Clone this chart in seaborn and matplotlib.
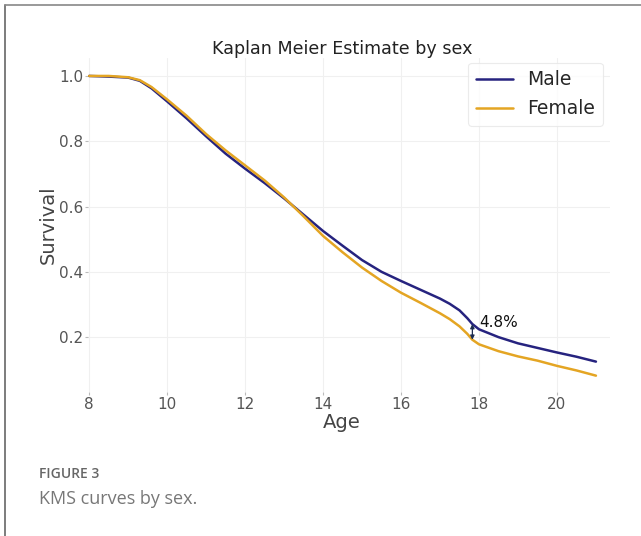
import matplotlib
matplotlib.use("Agg")
import matplotlib.pyplot as plt
from matplotlib.lines import Line2D
import numpy as np
import pandas as pd
import seaborn as sns

# Kaplan-Meier survival estimates by sex
ages = [8.0, 8.5, 9.0, 9.3, 9.6, 10.0, 10.5, 11.0, 11.5, 12.0, 12.5, 13.0, 13.5,
        14.0, 14.5, 15.0, 15.5, 16.0, 16.5, 17.0, 17.25, 17.5, 17.7, 17.83, 18.0,
        18.5, 19.0, 19.5, 20.0, 20.5, 21.0]
male_surv = [1.000, 0.998, 0.995, 0.985, 0.962, 0.922, 0.870, 0.815, 0.762, 0.716,
             0.672, 0.625, 0.575, 0.525, 0.480, 0.436, 0.400, 0.372, 0.345, 0.318,
             0.302, 0.282, 0.258, 0.240, 0.224, 0.200, 0.181, 0.167, 0.153, 0.140,
             0.125]
female_surv = [1.000, 1.000, 0.996, 0.987, 0.966, 0.928, 0.878, 0.822, 0.772, 0.726,
               0.680, 0.628, 0.570, 0.510, 0.460, 0.413, 0.372, 0.336, 0.305, 0.273,
               0.255, 0.233, 0.210, 0.192, 0.178, 0.157, 0.141, 0.128, 0.112, 0.098,
               0.082]
sexes = ["Male", "Female"]
x_ticks = [8, 10, 12, 14, 16, 18, 20]
y_ticks = [0.2, 0.4, 0.6, 0.8, 1.0]

gap_age = 17.83
gap_male = male_surv[ages.index(gap_age)]
gap_female = female_surv[ages.index(gap_age)]

df = pd.DataFrame({
    "Age": ages * 2,
    "Survival": male_surv + female_surv,
    "Sex": [sexes[0]] * len(ages) + [sexes[1]] * len(ages),
})

sns.set_theme(style="whitegrid")
plt.rcParams["font.family"] = ["DejaVu Sans"]

fig = plt.figure(figsize=(6.41, 5.36), dpi=100)
ax = fig.add_axes([0.1373, 0.2687, 0.8143, 0.6231])

palette = {"Male": "#26237f", "Female": "#e4a523"}
sns.lineplot(data=df, x="Age", y="Survival", hue="Sex", palette=palette,
             linewidth=1.8, ax=ax)

ax.set_xlim(7.97, 21.36)
ax.set_ylim(0.032, 1.055)
ax.set_xticks(x_ticks)
ax.set_yticks(y_ticks)
ax.set_xticklabels([str(t) for t in x_ticks])
ax.set_yticklabels([f"{t:.1f}" for t in y_ticks])

for s in ax.spines.values():
    s.set_visible(False)
ax.grid(True, color="#f0f0f0", linewidth=0.8)
ax.tick_params(axis="both", which="major", length=2, width=0.8, color="#bbbbbb",
               labelsize=11, labelcolor="#555555", pad=1.5, bottom=True, left=True)

ax.set_title("Kaplan Meier Estimate by sex", fontsize=12.6, color="#222222", pad=3,
             x=0.487)
ax.set_xlabel("Age", fontsize=14, color="#444444", labelpad=0)
ax.xaxis.set_label_coords(0.487, -0.064)
ax.set_ylabel("Survival", fontsize=14, color="#444444", labelpad=1)

leg = ax.legend(loc="upper right", fontsize=13.5, frameon=True, handlelength=2.0,
                borderpad=0.4, labelspacing=0.55, handletextpad=0.75,
                borderaxespad=0.25, bbox_to_anchor=(0.995, 1.0))
leg.get_frame().set_edgecolor("#e6e6e6")
leg.get_frame().set_linewidth(0.8)
for h in leg.get_lines():
    h.set_linewidth(1.8)

# Gap between the two curves at age 17.8
ax.annotate("", xy=(gap_age, gap_male), xytext=(gap_age, gap_female),
            arrowprops=dict(arrowstyle="<|-|>", color="#1c2c50", lw=0.9,
                            mutation_scale=6, shrinkA=0, shrinkB=0))
ax.text(gap_age + 0.18, (gap_male + gap_female) / 2 + 0.03,
        f"{(gap_male - gap_female) * 100:.1f}%", fontsize=11, color="#111111",
        ha="left", va="center")

# Caption
fig.text(39 / 641, 1 - 474 / 536, "FIGURE 3", fontsize=10, fontweight="semibold",
         color="#666666", family=["Open Sans", "DejaVu Sans"], va="center")
fig.text(39 / 641, 1 - 499 / 536, "KMS curves by sex.", fontsize=13,
         color="#777777", family=["Open Sans", "DejaVu Sans"], va="center")

# Frame lines at the top and left edges
fig.add_artist(Line2D([4.5 / 641, 4.5 / 641], [0, 1 - 5 / 536], color="#666666",
                      lw=1.2, transform=fig.transFigure))
fig.add_artist(Line2D([4.5 / 641, 1], [1 - 5 / 536, 1 - 5 / 536], color="#888888",
                      lw=1.2, transform=fig.transFigure))

fig.savefig("out.png", dpi=100)
